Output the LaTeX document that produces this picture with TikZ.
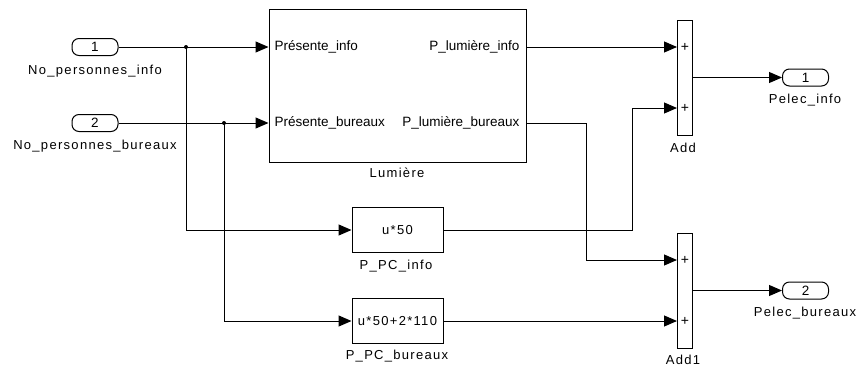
\documentclass[tikz,border=0pt]{standalone}
\usepackage{fontspec}
\setmainfont{Liberation Sans}
\newfontfamily\lblfont[LetterSpace=10]{Liberation Sans}
\usetikzlibrary{arrows.meta}
\begin{document}
\begin{tikzpicture}[x=1pt,y=-1pt,line width=1pt,
  blk/.style={draw,line width=1pt,inner sep=0pt,fill=white},
  port/.style={blk,minimum width=46pt,minimum height=17pt,rounded corners=7pt,font=\lblfont\fontsize{13.5}{13.5}\selectfont},
  lbl/.style={inner sep=0pt,font=\lblfont\fontsize{13}{13}\selectfont},
  plbl/.style={inner sep=0pt,font=\fontsize{13.5}{13.5}\selectfont},
  pls/.style={inner sep=0pt,font=\fontsize{14}{14}\selectfont},
  arr/.style={-{Triangle[length=13pt,width=11pt]}},
  dot/.style={circle,fill,inner sep=0pt,minimum size=4pt}]
\useasboundingbox (0,0) rectangle (861,367);
% inports
\node[port] (in1) at (95,47) {1};
\node[port] (in2) at (95,123) {2};
\node[lbl] (in1l) at (95,71) {No\_personnes\_info};
\node[lbl] (in2l) at (95,146) {No\_personnes\_bureaux};
% Lumiere
\node[blk,minimum width=257pt,minimum height=153pt] (lum) at (397.5,85.5) {};
\node[lbl] (luml) at (397,173) {Lumière};
\node[plbl,anchor=west] (lp1) at (274,47) {Présente\_info};
\node[plbl,anchor=west] (lp2) at (274,123) {Présente\_bureaux};
\node[plbl,anchor=east] (lq1) at (520,47) {P\_lumière\_info};
\node[plbl,anchor=east] (lq2) at (520,123) {P\_lumière\_bureaux};
% PC blocks
\node[blk,minimum width=91pt,minimum height=45pt,font=\lblfont\fontsize{13}{13}\selectfont] (pci) at (397.5,230) {u*50};
\node[lbl] (pcil) at (396,266) {P\_PC\_info};
\node[blk,minimum width=91pt,minimum height=45pt,font=\lblfont\fontsize{13}{13}\selectfont] (pcb) at (397.5,321) {u*50+2*110};
\node[lbl] (pcbl) at (397,356) {P\_PC\_bureaux};
% Add blocks
\node[blk,minimum width=15pt,minimum height=115pt] (add) at (684.5,77.5) {};
\node[lbl] (addl) at (683,148) {Add};
\node[blk,minimum width=15pt,minimum height=115pt] (add1) at (684.5,290.5) {};
\node[lbl] (add1l) at (683,359.5) {Add1};
\node[pls] (p1) at (685,47) {+};
\node[pls] (p2) at (685,108) {+};
\node[pls] (p3) at (685,260) {+};
\node[pls] (p4) at (685,321) {+};
% outports
\node[port] (out1) at (805.5,77.5) {1};
\node[port] (out2) at (805.5,290.5) {2};
\node[lbl] (out1l) at (805,100) {Pelec\_info};
\node[lbl] (out2l) at (805,313) {Pelec\_bureaux};
% coordinates
\coordinate (b1) at (186,47);
\coordinate (b2) at (224,123);
\coordinate (a1) at (677,47);
\coordinate (a2) at (677,108);
\coordinate (c1) at (677,260);
\coordinate (c2) at (677,321);
\coordinate (r1) at (586,123);
\coordinate (r2) at (632,230);
% connectors
\draw (in1.east) -- (b1);
\draw[arr] (b1) -- (b1 -| lum.west);
\draw[arr] (b1) |- (pci.west);
\draw (in2.east) -- (b2);
\draw[arr] (b2) -- (b2 -| lum.west);
\draw[arr] (b2) |- (pcb.west);
\node[dot] (d1) at (b1) {};
\node[dot] (d2) at (b2) {};
\draw[arr] (lum.east |- b1) -- (a1);
\draw[arr] (lum.east |- r1) -- (r1) |- (c1);
\draw[arr] (pci.east) -- (r2) |- (a2);
\draw[arr] (pcb.east) -- (c2);
\draw[arr] (add.east) -- (out1.west);
\draw[arr] (add1.east) -- (out2.west);
\end{tikzpicture}
\end{document}
